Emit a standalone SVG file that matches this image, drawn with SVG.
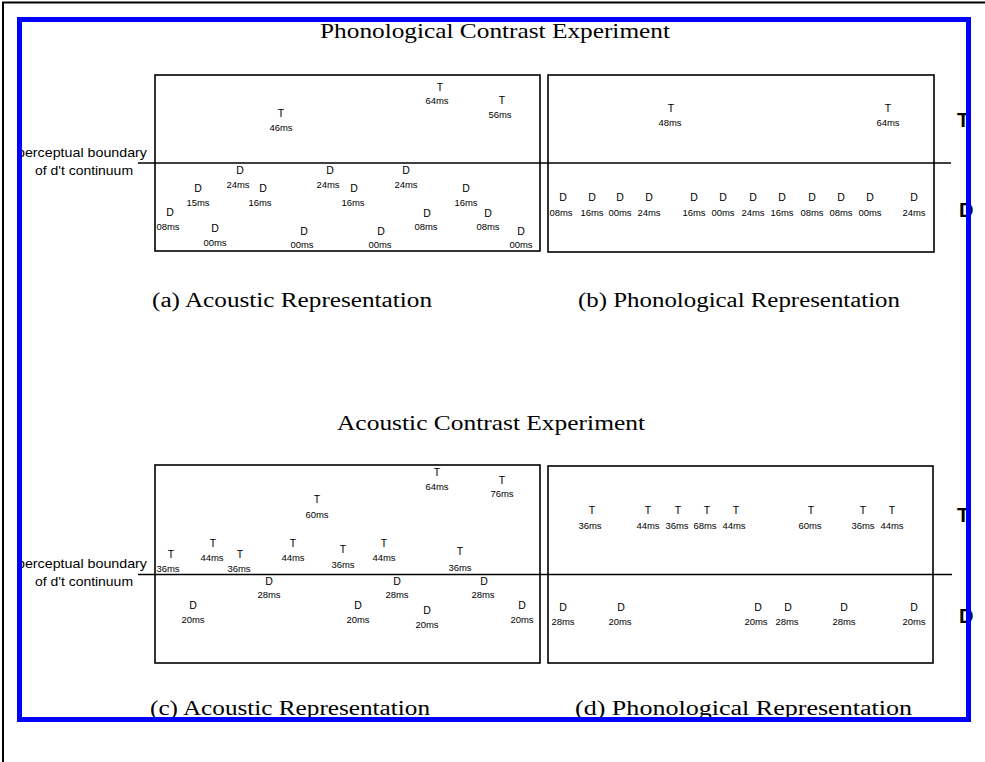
<svg xmlns="http://www.w3.org/2000/svg" width="985" height="762" viewBox="0 0 985 762">
<style>
.bg{fill:#fff}
.frame{fill:none;stroke:#000;stroke-width:1.6}
.bound{stroke:#000;stroke-width:1.5;fill:none}
.title{font-family:"Liberation Serif","Times New Roman",serif;font-size:21px;fill:#000}
.cap{font-family:"Liberation Serif","Times New Roman",serif;font-size:20px;fill:#000}
.side{font-family:"Liberation Sans",Arial,sans-serif;font-size:13.5px;fill:#000;text-anchor:middle}
.l{font-family:"Liberation Sans",Arial,sans-serif;font-size:10.5px;fill:#000;text-anchor:middle}
.v{font-family:"Liberation Sans",Arial,sans-serif;font-size:9.5px;fill:#000;text-anchor:middle}
.big{font-family:"Liberation Sans",Arial,sans-serif;font-size:20px;font-weight:bold;fill:#000}
</style>
<rect class="bg" x="0" y="0" width="985" height="762"/>
<path d="M3,762 V2.5 H985" fill="none" stroke="#000" stroke-width="2"/>

<!-- titles and captions -->
<text class="title" x="320" y="38" textLength="350" lengthAdjust="spacingAndGlyphs">Phonological Contrast Experiment</text>
<text class="cap" x="152" y="307" textLength="280" lengthAdjust="spacingAndGlyphs">(a) Acoustic Representation</text>
<text class="cap" x="578" y="307" textLength="322" lengthAdjust="spacingAndGlyphs">(b) Phonological Representation</text>
<text class="title" x="337" y="430" textLength="308" lengthAdjust="spacingAndGlyphs">Acoustic Contrast Experiment</text>
<text class="cap" x="150" y="715" textLength="280" lengthAdjust="spacingAndGlyphs">(c) Acoustic Representation</text>
<text class="cap" x="575" y="715" textLength="337" lengthAdjust="spacingAndGlyphs">(d) Phonological Representation</text>

<!-- side labels -->
<g id="boundary-label-top">
<text class="side" x="82" y="157" textLength="130" lengthAdjust="spacingAndGlyphs">perceptual boundary</text>
<text class="side" x="84" y="174.5" textLength="98" lengthAdjust="spacingAndGlyphs">of d't continuum</text>
</g>
<g id="boundary-label-bottom">
<text class="side" x="82" y="567.5" textLength="130" lengthAdjust="spacingAndGlyphs">perceptual boundary</text>
<text class="side" x="84" y="586" textLength="98" lengthAdjust="spacingAndGlyphs">of d't continuum</text>
</g>

<!-- panels -->
<g id="panel-a"><rect class="frame" x="155" y="75" width="385" height="176"/></g>
<g id="panel-b"><rect class="frame" x="548" y="75" width="386" height="177"/></g>
<g id="panel-c"><rect class="frame" x="155" y="465" width="385" height="198"/></g>
<g id="panel-d"><rect class="frame" x="548" y="466" width="385" height="197"/></g>

<!-- connectors: perceptual boundary lines -->
<g id="connectors">
<line class="bound" x1="138" y1="163" x2="951" y2="163"/>
<line class="bound" x1="138" y1="574.5" x2="952" y2="574.5"/>
</g>

<!-- panel (a) points -->
<g id="a-t46"><text class="l" x="281" y="117">T</text><text class="v" x="281" y="130.5">46ms</text></g>
<g id="a-t64"><text class="l" x="440" y="91">T</text><text class="v" x="437" y="103.5">64ms</text></g>
<g id="a-t56"><text class="l" x="502" y="104">T</text><text class="v" x="500" y="117.5">56ms</text></g>
<g id="a-d24a"><text class="l" x="240" y="174">D</text><text class="v" x="238" y="187.5">24ms</text></g>
<g id="a-d16a"><text class="l" x="263" y="192">D</text><text class="v" x="260" y="205.5">16ms</text></g>
<g id="a-d15"><text class="l" x="198" y="192">D</text><text class="v" x="198" y="205.5">15ms</text></g>
<g id="a-d08a"><text class="l" x="170" y="216">D</text><text class="v" x="168" y="229.5">08ms</text></g>
<g id="a-d00a"><text class="l" x="215" y="232">D</text><text class="v" x="215" y="245.5">00ms</text></g>
<g id="a-d24b"><text class="l" x="330" y="174">D</text><text class="v" x="328" y="187.5">24ms</text></g>
<g id="a-d16b"><text class="l" x="354" y="192">D</text><text class="v" x="353" y="205.5">16ms</text></g>
<g id="a-d00b"><text class="l" x="304" y="235">D</text><text class="v" x="302" y="247.5">00ms</text></g>
<g id="a-d24c"><text class="l" x="406" y="174">D</text><text class="v" x="406" y="187.5">24ms</text></g>
<g id="a-d16c"><text class="l" x="466" y="192">D</text><text class="v" x="466" y="205.5">16ms</text></g>
<g id="a-d08b"><text class="l" x="427" y="217">D</text><text class="v" x="426" y="229.5">08ms</text></g>
<g id="a-d08c"><text class="l" x="488" y="217">D</text><text class="v" x="488" y="229.5">08ms</text></g>
<g id="a-d00c"><text class="l" x="381" y="235">D</text><text class="v" x="380" y="247.5">00ms</text></g>
<g id="a-d00d"><text class="l" x="521" y="235">D</text><text class="v" x="521" y="247.5">00ms</text></g>

<!-- panel (b) points -->
<g id="b-t48"><text class="l" x="671" y="112">T</text><text class="v" x="670" y="125.5">48ms</text></g>
<g id="b-t64"><text class="l" x="888" y="112">T</text><text class="v" x="888" y="125.5">64ms</text></g>
<g id="b-d1"><text class="l" x="563" y="201">D</text><text class="v" x="561" y="215.5">08ms</text></g>
<g id="b-d2"><text class="l" x="592" y="201">D</text><text class="v" x="592" y="215.5">16ms</text></g>
<g id="b-d3"><text class="l" x="620" y="201">D</text><text class="v" x="620" y="215.5">00ms</text></g>
<g id="b-d4"><text class="l" x="649" y="201">D</text><text class="v" x="649" y="215.5">24ms</text></g>
<g id="b-d5"><text class="l" x="694" y="201">D</text><text class="v" x="694" y="215.5">16ms</text></g>
<g id="b-d6"><text class="l" x="723" y="201">D</text><text class="v" x="723" y="215.5">00ms</text></g>
<g id="b-d7"><text class="l" x="753" y="201">D</text><text class="v" x="753" y="215.5">24ms</text></g>
<g id="b-d8"><text class="l" x="782" y="201">D</text><text class="v" x="782" y="215.5">16ms</text></g>
<g id="b-d9"><text class="l" x="812" y="201">D</text><text class="v" x="812" y="215.5">08ms</text></g>
<g id="b-d10"><text class="l" x="841" y="201">D</text><text class="v" x="841" y="215.5">08ms</text></g>
<g id="b-d11"><text class="l" x="870" y="201">D</text><text class="v" x="870" y="215.5">00ms</text></g>
<g id="b-d12"><text class="l" x="914" y="201">D</text><text class="v" x="914" y="215.5">24ms</text></g>

<!-- panel (c) points -->
<g id="c-t1"><text class="l" x="171" y="558">T</text><text class="v" x="168" y="571.5">36ms</text></g>
<g id="c-t2"><text class="l" x="213" y="547">T</text><text class="v" x="212" y="560.5">44ms</text></g>
<g id="c-t3"><text class="l" x="240" y="558">T</text><text class="v" x="239" y="571.5">36ms</text></g>
<g id="c-t4"><text class="l" x="293" y="547">T</text><text class="v" x="293" y="560.5">44ms</text></g>
<g id="c-t5"><text class="l" x="317" y="503">T</text><text class="v" x="317" y="517.5">60ms</text></g>
<g id="c-t6"><text class="l" x="343" y="553">T</text><text class="v" x="343" y="567.5">36ms</text></g>
<g id="c-t7"><text class="l" x="384" y="547">T</text><text class="v" x="384" y="560.5">44ms</text></g>
<g id="c-t8"><text class="l" x="437" y="476">T</text><text class="v" x="437" y="489.5">64ms</text></g>
<g id="c-t9"><text class="l" x="502" y="484">T</text><text class="v" x="502" y="496.5">76ms</text></g>
<g id="c-t10"><text class="l" x="460" y="555">T</text><text class="v" x="460" y="570.5">36ms</text></g>
<g id="c-d1"><text class="l" x="269" y="585">D</text><text class="v" x="269" y="597.5">28ms</text></g>
<g id="c-d2"><text class="l" x="193" y="609">D</text><text class="v" x="193" y="622.5">20ms</text></g>
<g id="c-d3"><text class="l" x="358" y="609">D</text><text class="v" x="358" y="622.5">20ms</text></g>
<g id="c-d4"><text class="l" x="397" y="585">D</text><text class="v" x="397" y="597.5">28ms</text></g>
<g id="c-d5"><text class="l" x="427" y="614">D</text><text class="v" x="427" y="627.5">20ms</text></g>
<g id="c-d6"><text class="l" x="484" y="585">D</text><text class="v" x="483" y="597.5">28ms</text></g>
<g id="c-d7"><text class="l" x="522" y="609">D</text><text class="v" x="522" y="622.5">20ms</text></g>

<!-- panel (d) points -->
<g id="d-t1"><text class="l" x="592" y="514">T</text><text class="v" x="590" y="528.5">36ms</text></g>
<g id="d-t2"><text class="l" x="648" y="514">T</text><text class="v" x="648" y="528.5">44ms</text></g>
<g id="d-t3"><text class="l" x="678" y="514">T</text><text class="v" x="677" y="528.5">36ms</text></g>
<g id="d-t4"><text class="l" x="707" y="514">T</text><text class="v" x="705" y="528.5">68ms</text></g>
<g id="d-t5"><text class="l" x="736" y="514">T</text><text class="v" x="734" y="528.5">44ms</text></g>
<g id="d-t6"><text class="l" x="811" y="514">T</text><text class="v" x="810" y="528.5">60ms</text></g>
<g id="d-t7"><text class="l" x="863" y="514">T</text><text class="v" x="863" y="528.5">36ms</text></g>
<g id="d-t8"><text class="l" x="892" y="514">T</text><text class="v" x="892" y="528.5">44ms</text></g>
<g id="d-d1"><text class="l" x="563" y="611">D</text><text class="v" x="563" y="624.5">28ms</text></g>
<g id="d-d2"><text class="l" x="621" y="611">D</text><text class="v" x="620" y="624.5">20ms</text></g>
<g id="d-d3"><text class="l" x="758" y="611">D</text><text class="v" x="756" y="624.5">20ms</text></g>
<g id="d-d4"><text class="l" x="788" y="611">D</text><text class="v" x="787" y="624.5">28ms</text></g>
<g id="d-d5"><text class="l" x="844" y="611">D</text><text class="v" x="844" y="624.5">28ms</text></g>
<g id="d-d6"><text class="l" x="914" y="611">D</text><text class="v" x="914" y="624.5">20ms</text></g>

<!-- right-side category labels -->
<g id="cat-top">
<text class="big" x="957" y="127">T</text>
<text class="big" x="959" y="217">D</text>
</g>
<g id="cat-bottom">
<text class="big" x="957" y="522">T</text>
<text class="big" x="959" y="623">D</text>
</g>

<!-- blue frame -->
<rect x="19.5" y="19.5" width="949" height="700" fill="none" stroke="#0000ff" stroke-width="5"/>
</svg>
